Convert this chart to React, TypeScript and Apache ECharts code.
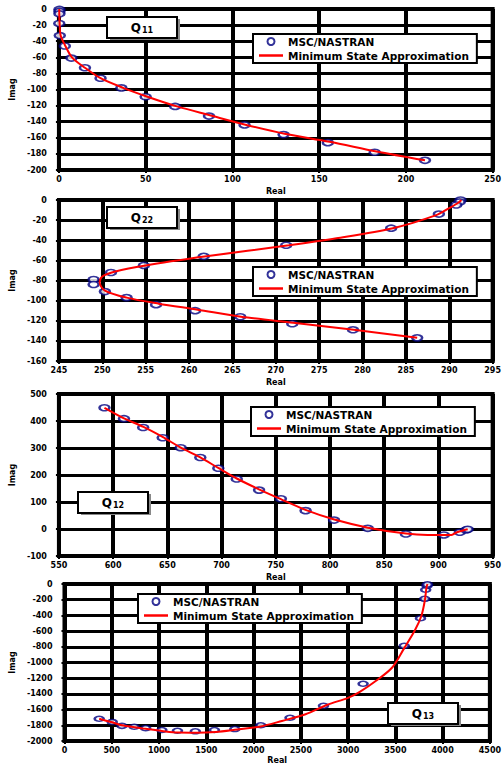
import React, { useEffect, useRef } from "react";
import * as echarts from "echarts";

// ---- Panel 1 : Q11 ----
const q11NastranReal = [0.3, 0.3, 0.3, 0.2, 0.5, 3.4, 7.2, 15, 24, 36, 50, 67, 86.5, 107, 129.5, 155, 182, 211];
const q11NastranImag = [-0.5, -3, -6, -18, -33, -46, -61, -73, -86, -98, -109, -121, -133, -144, -156, -166, -178, -188];
const q11MsaReal = [0.2, 0.2, 0.4, 1, 3.5, 7.5, 15, 24, 37, 51, 68, 87, 108, 130, 156, 183, 211];
const q11MsaImag = [0, -6, -18, -33, -45, -60, -73, -86, -98, -109, -121, -132, -144, -155, -165, -177, -188];

// ---- Panel 2 : Q22 ----
const q22NastranReal = [291.3, 291.2, 290.8, 288.8, 283.3, 271.2, 261.7, 254.8, 251, 249, 249, 250.3, 252.8, 256.2, 260.7, 265.9, 271.9, 278.9, 286.3];
const q22NastranImag = [0, -2, -5, -14, -28, -45, -56, -65, -72, -79, -84, -91, -97, -104, -110, -116, -123, -129, -137];
const q22MsaReal = [291.4, 291, 290, 288.5, 283.5, 277, 271.5, 262, 255, 251.5, 250, 249.7, 250.3, 252.8, 256.5, 261, 266, 272, 279, 286.3];
const q22MsaImag = [0, -3, -8, -15, -28, -38, -45, -56, -65, -71, -76, -82, -90, -97, -103, -109, -116, -122, -129, -137];

// ---- Panel 3 : Q12 ----
const q12NastranReal = [592, 610, 627.7, 645.7, 662.3, 680.4, 697, 714, 734.6, 754.7, 777.5, 803.7, 834.8, 870, 905, 919.7, 925.6, 927];
const q12NastranImag = [449, 408.6, 376, 338, 301, 265, 225, 185, 144, 112, 68, 33, 2.4, -18.5, -22, -12, -3.7, -1];
const q12MsaReal = [592, 610, 628, 646, 662, 680, 697, 714, 735, 755, 778, 804, 835, 870, 890, 912, 917, 925, 927];
const q12MsaImag = [449, 410, 378, 340, 302, 266, 226, 187, 146, 110, 70, 35, 5, -17, -22, -22, -12, -3, -1];

// ---- Panel 4 : Q13 ----
const q13NastranReal = [367, 505, 608, 738, 859, 1030, 1195, 1384, 1586, 1802, 2077, 2386, 2740, 3159, 3594, 3766, 3811, 3821, 3835, 3840];
const q13NastranImag = [-1716, -1757, -1807, -1819, -1836, -1860, -1869, -1877, -1860, -1848, -1799, -1704, -1551, -1271, -788, -437, -189, -74, -21, -5];
const q13MsaReal = [367, 505, 608, 738, 859, 1030, 1200, 1400, 1600, 1800, 2077, 2300, 2550, 2781, 3000, 3124, 3300, 3467, 3594, 3707, 3776, 3811, 3830, 3840];
const q13MsaImag = [-1716, -1762, -1800, -1825, -1845, -1872, -1893, -1895, -1885, -1858, -1815, -1745, -1660, -1538, -1450, -1374, -1230, -1064, -817, -590, -404, -216, -41, 0];

const panelTitles = ["11", "22", "12", "13"];
const seriesNames = ["MSC/NASTRAN", "Minimum State Approximation"];
const xAxisName = "Real";
const yAxisName = "Imag";

const zip = (a: number[], b: number[]) => a.map((v, i) => [v, b[i]]);

export default function App() {
  const ref = useRef<HTMLDivElement>(null);
  useEffect(() => {
    if (!ref.current) return;
    const chart = echarts.init(ref.current, null, { renderer: "svg" });
    const font = "DejaVu Sans";
    const grids = [
      { left: 58, top: 9, width: 442, height: 161 },
      { left: 58, top: 200, width: 442, height: 161 },
      { left: 58, top: 394, width: 442, height: 162 },
      { left: 63, top: 584, width: 437, height: 162 },
    ];
    const xr = [
      { min: 0, max: 250, interval: 50 },
      { min: 245, max: 295, interval: 5 },
      { min: 550, max: 950, interval: 50 },
      { min: 0, max: 4500, interval: 500 },
    ];
    const yr = [
      { min: -200, max: 0, interval: 20 },
      { min: -160, max: 0, interval: 20 },
      { min: -100, max: 500, interval: 100 },
      { min: -2000, max: 0, interval: 200 },
    ];
    const labelStyle = {
      fontSize: 8,
      fontWeight: "bold" as const,
      fontFamily: font,
      color: "#000",
      formatter: (v: number) => String(v),
    };
    const nastran = [
      zip(q11NastranReal, q11NastranImag),
      zip(q22NastranReal, q22NastranImag),
      zip(q12NastranReal, q12NastranImag),
      zip(q13NastranReal, q13NastranImag),
    ];
    const msa = [
      zip(q11MsaReal, q11MsaImag),
      zip(q22MsaReal, q22MsaImag),
      zip(q12MsaReal, q12MsaImag),
      zip(q13MsaReal, q13MsaImag),
    ];
    const legendPos = [
      { left: 253, top: 34 },
      { left: 253, top: 267 },
      { left: 251, top: 407 },
      { left: 138, top: 594 },
    ];
    const boxPos = [
      [107, 17],
      [107, 207],
      [78, 492],
      [388, 703],
    ];
    const series: any[] = [];
    for (let i = 0; i < 4; i++) {
      series.push({
        type: "scatter",
        name: seriesNames[0],
        xAxisIndex: i,
        yAxisIndex: i,
        data: nastran[i],
        symbol: "circle",
        symbolSize: i === 3 ? [9, 5] : [10, 6],
        itemStyle: { color: "#fff", borderColor: "#000080", borderWidth: 2 },
        z: 3,
      });
      series.push({
        type: "line",
        name: seriesNames[1],
        xAxisIndex: i,
        yAxisIndex: i,
        data: msa[i],
        symbol: "none",
        smooth: 0.3,
        lineStyle: { color: "#ff0000", width: 2 },
        itemStyle: { color: "#ff0000" },
        z: 4,
      });
    }
    const option: any = {
      animation: false,
      backgroundColor: "#fff",
      grid: grids.map((g) => ({ ...g, show: true, borderColor: "#000", borderWidth: 4, backgroundColor: "transparent" })),
      xAxis: xr.map((r, i) => ({
        type: "value",
        gridIndex: i,
        ...r,
        name: xAxisName,
        nameLocation: "middle",
        nameGap: i === 3 ? 15 : 17,
        nameTextStyle: { fontSize: 8, fontWeight: "bold", fontFamily: font, color: "#000" },
        axisLine: { show: true, onZero: false, lineStyle: { color: "#000", width: 4 } },
        axisTick: { show: true, length: 3, lineStyle: { color: "#000", width: 2 } },
        axisLabel: { ...labelStyle, margin: 5 },
        splitLine: { show: true, lineStyle: { color: "#000", width: 4, opacity: 1 } },
      })),
      yAxis: yr.map((r, i) => ({
        type: "value",
        gridIndex: i,
        ...r,
        name: yAxisName,
        nameLocation: "middle",
        nameGap: i === 3 ? 45 : 40,
        nameTextStyle: { fontSize: 8, fontWeight: "bold", fontFamily: font, color: "#000" },
        axisLine: { show: true, onZero: false, lineStyle: { color: "#000", width: 4 } },
        axisTick: { show: true, length: 3, lineStyle: { color: "#000", width: 2 } },
        axisLabel: { ...labelStyle, margin: 12 },
        splitLine: { show: true, lineStyle: { color: "#000", width: 3, opacity: 1 } },
      })),
      legend: legendPos.map((p) => ({
        ...p,
        orient: "vertical",
        data: [
          { name: seriesNames[0], icon: "circle" },
          { name: seriesNames[1], icon: "path://M0,0 L24,0 L24,2.5 L0,2.5 Z" },
        ],
        backgroundColor: "#fff",
        borderColor: "#000",
        borderWidth: 2,
        borderRadius: 0,
        padding: [1, 8, 1, 6],
        itemGap: 1,
        itemWidth: 24,
        itemHeight: 7,
        selectedMode: false,
        textStyle: { fontSize: 10.5, lineHeight: 13, fontWeight: "bold", fontFamily: font, color: "#000" },
      })),
      graphic: boxPos.map((p, i) => ({
        type: "group",
        x: p[0],
        y: p[1],
        z: 100,
        children: [
          { type: "rect", shape: { x: 3, y: 2, width: 70, height: 21 }, style: { fill: "#888" }, z: 100 },
          { type: "rect", shape: { x: 0, y: 0, width: 70, height: 21 }, style: { fill: "#fff", stroke: "#000", lineWidth: 2 }, z: 101 },
          {
            type: "text",
            x: 35,
            y: 11,
            z: 102,
            style: {
              text: "{q|Q}{s|" + panelTitles[i] + "}",
              align: "center",
              verticalAlign: "middle",
              rich: {
                q: { fontSize: 12, fontWeight: "bold", fontFamily: font, fill: "#000" },
                s: { fontSize: 8, fontWeight: "bold", fontFamily: font, fill: "#000", padding: [4, 0, 0, 1] },
              },
            },
          },
        ],
      })),
      series,
    };
    chart.setOption(option);
    return () => chart.dispose();
  }, []);
  return <div ref={ref} style={{ position: "absolute", left: 0, top: 0, width: 504, height: 765 }} />;
}
